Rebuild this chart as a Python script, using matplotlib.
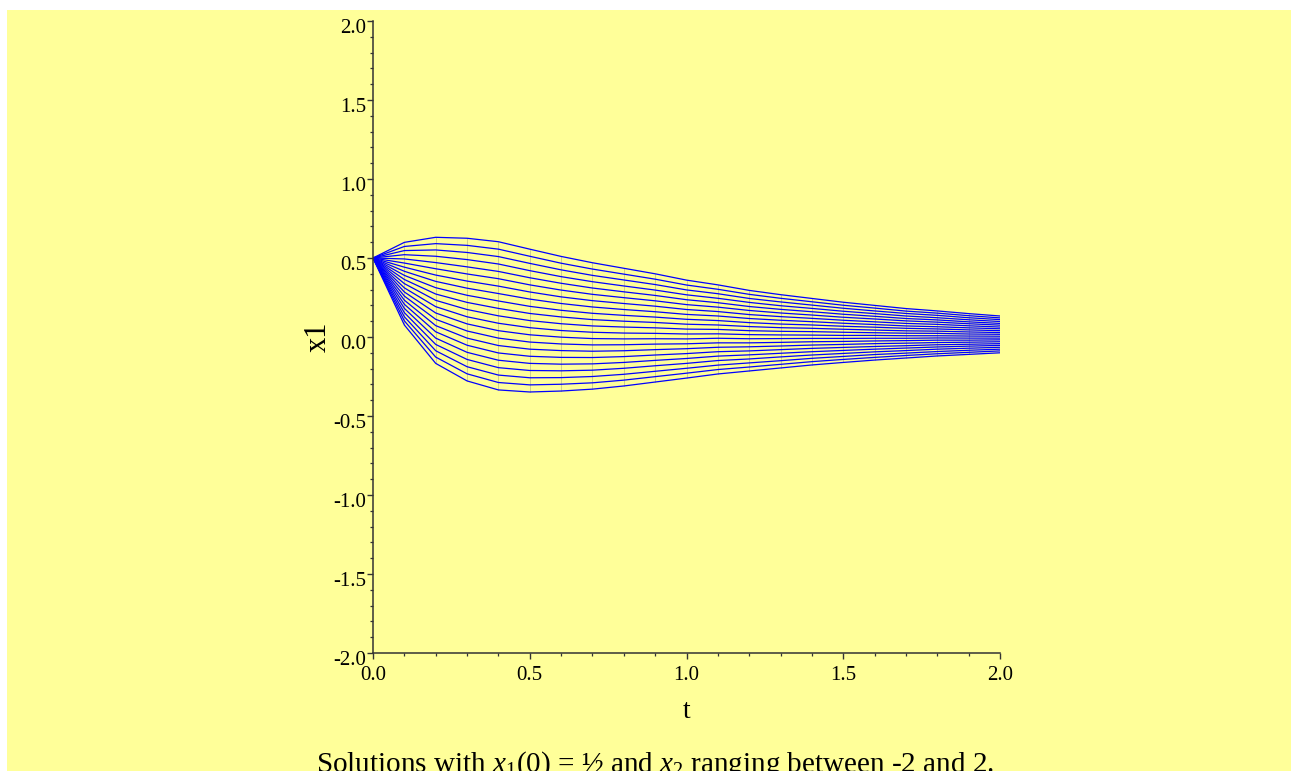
import matplotlib
matplotlib.use("Agg")
import matplotlib.pyplot as plt
import matplotlib.transforms as mtransforms
from matplotlib.patches import Rectangle
from matplotlib.ticker import MultipleLocator, FormatStrFormatter

# time samples (step 0.1)
T = [0.0, 0.1, 0.2, 0.3, 0.4, 0.5, 0.6, 0.7, 0.8, 0.9, 1.0,
     1.1, 1.2, 1.3, 1.4, 1.5, 1.6, 1.7, 1.8, 1.9, 2.0]

# starting values of x2 for each curve, x1(0) = 0.5 for all of them
X2_START = [-2.0, -1.8, -1.6, -1.4, -1.2, -1.0, -0.8, -0.6, -0.4, -0.2, 0.0,
            0.2, 0.4, 0.6, 0.8, 1.0, 1.2, 1.4, 1.6, 1.8, 2.0]

# x1(t), one row per curve (same order as X2_START)
X1_CURVES = [
    [.5, .076, -.167, -.278, -.335, -.348, -.342, -.330, -.310, -.285, -.260, -.234, -.215, -.196, -.177, -.161, -.146, -.133, -.120, -.110, -.100],
    [.5, .102, -.127, -.233, -.288, -.303, -.299, -.290, -.273, -.251, -.229, -.206, -.190, -.173, -.156, -.142, -.129, -.117, -.106, -.097, -.088],
    [.5, .128, -.087, -.188, -.241, -.258, -.257, -.250, -.236, -.217, -.198, -.178, -.164, -.150, -.135, -.123, -.111, -.102, -.092, -.084, -.077],
    [.5, .154, -.047, -.142, -.194, -.212, -.214, -.210, -.198, -.182, -.167, -.149, -.139, -.126, -.114, -.104, -.094, -.086, -.077, -.071, -.065],
    [.5, .181, -.007, -.097, -.147, -.167, -.172, -.170, -.161, -.148, -.136, -.121, -.113, -.103, -.093, -.085, -.077, -.070, -.063, -.058, -.053],
    [.5, .207, .033, -.052, -.101, -.122, -.129, -.130, -.124, -.114, -.105, -.093, -.088, -.080, -.072, -.066, -.060, -.055, -.049, -.046, -.042],
    [.5, .233, .072, -.007, -.054, -.077, -.086, -.090, -.087, -.080, -.074, -.065, -.062, -.057, -.051, -.047, -.042, -.039, -.035, -.033, -.030],
    [.5, .259, .112, .038, -.007, -.032, -.044, -.050, -.049, -.045, -.043, -.037, -.037, -.034, -.030, -.028, -.025, -.023, -.020, -.020, -.018],
    [.5, .285, .152, .083, .040, .014, -.001, -.010, -.012, -.011, -.012, -.008, -.011, -.010, -.009, -.009, -.008, -.008, -.006, -.007, -.007],
    [.5, .311, .192, .128, .087, .059, .041, .030, .025, .023, .019, .020, .015, .013, .012, .010, .010, .008, .008, .006, .005],
    [.5, .338, .232, .174, .134, .104, .084, .070, .063, .058, .050, .048, .040, .036, .034, .030, .027, .024, .023, .019, .017],
    [.5, .364, .272, .219, .181, .149, .127, .110, .100, .092, .081, .076, .066, .059, .055, .049, .044, .039, .037, .032, .028],
    [.5, .390, .312, .264, .228, .194, .169, .150, .137, .126, .112, .104, .091, .082, .076, .068, .062, .055, .051, .045, .040],
    [.5, .416, .352, .309, .275, .240, .212, .190, .174, .160, .143, .133, .117, .106, .097, .087, .079, .070, .065, .058, .052],
    [.5, .442, .392, .354, .322, .285, .254, .230, .212, .195, .174, .161, .142, .129, .118, .106, .096, .086, .080, .071, .063],
    [.5, .468, .432, .399, .369, .330, .297, .270, .249, .229, .205, .189, .168, .152, .139, .125, .114, .102, .094, .084, .075],
    [.5, .494, .471, .444, .415, .375, .340, .310, .286, .263, .236, .217, .193, .175, .160, .144, .131, .117, .108, .096, .086],
    [.5, .521, .511, .490, .462, .420, .382, .350, .323, .297, .267, .245, .219, .198, .181, .163, .148, .133, .122, .109, .098],
    [.5, .547, .551, .535, .509, .466, .425, .390, .361, .332, .298, .274, .244, .222, .202, .182, .165, .149, .137, .122, .110],
    [.5, .573, .591, .580, .556, .511, .467, .430, .398, .366, .329, .302, .270, .245, .223, .201, .183, .164, .151, .135, .121],
    [.5, .599, .631, .625, .603, .556, .510, .470, .435, .400, .360, .330, .295, .268, .244, .220, .200, .180, .165, .148, .133],
]

CAPTION = "Solutions with $x_1$(0) = ½ and $x_2$ ranging between -2 and 2."

plt.rcParams['font.family'] = ['Liberation Serif', 'DejaVu Serif']
plt.rcParams['mathtext.fontset'] = 'custom'
plt.rcParams['mathtext.rm'] = 'Liberation Serif'
plt.rcParams['mathtext.it'] = 'Liberation Serif:italic'

fig = plt.figure(figsize=(12.91, 7.71), dpi=100, facecolor='white')

# yellow page behind everything
fig.patches.append(Rectangle((7 / 1291, 0), 1, 1 - 10 / 771, transform=fig.transFigure,
                             facecolor='#ffff99', edgecolor='none', zorder=-10))

ax = fig.add_axes([373 / 1291, 1 - 653 / 771, 627 / 1291, 632 / 771])
ax.set_facecolor('none')

# faint mesh lines joining the curves at every time step
for j, t in enumerate(T):
    col = [row[j] for row in X1_CURVES]
    ax.plot([t, t], [min(col), max(col)], color='#202070', lw=0.5, alpha=0.3)

for row in X1_CURVES:
    ax.plot(T, row, color='#0000ff', lw=0.9)

ax.set_xlim(0, 2)
ax.set_ylim(-2, 2)

for side in ['top', 'right']:
    ax.spines[side].set_visible(False)
for side in ['left', 'bottom']:
    ax.spines[side].set_color('#333333')
    ax.spines[side].set_linewidth(1.1)

ax.xaxis.set_major_locator(MultipleLocator(0.5))
ax.xaxis.set_minor_locator(MultipleLocator(0.1))
ax.yaxis.set_major_locator(MultipleLocator(0.5))
ax.yaxis.set_minor_locator(MultipleLocator(0.1))
ax.xaxis.set_major_formatter(FormatStrFormatter('%.1f'))
ax.yaxis.set_major_formatter(FormatStrFormatter('%.1f'))

ax.tick_params(which='major', direction='out', length=4, width=1.0, color='#333333',
               labelsize=15, pad=1)
ax.tick_params(which='minor', direction='out', length=2.5, width=0.9, color='#333333')
ax.tick_params(axis='x', which='major', pad=5)

# Maple puts the y labels a little under their ticks
offset = mtransforms.ScaledTranslation(0, -5 / 100, fig.dpi_scale_trans)
for lab in ax.get_yticklabels():
    lab.set_transform(lab.get_transform() + offset)

fig.text(687 / 1291, 1 - 712 / 771, 't', fontsize=20, ha='center', va='center')
fig.text(318 / 1291, 1 - 337 / 771, 'x1', fontsize=22, ha='center', va='center', rotation=90)
fig.text(655 / 1291, 1 - 749 / 771, CAPTION, fontsize=21, ha='center', va='top')

fig.savefig('out.png', dpi=100, facecolor='white')
